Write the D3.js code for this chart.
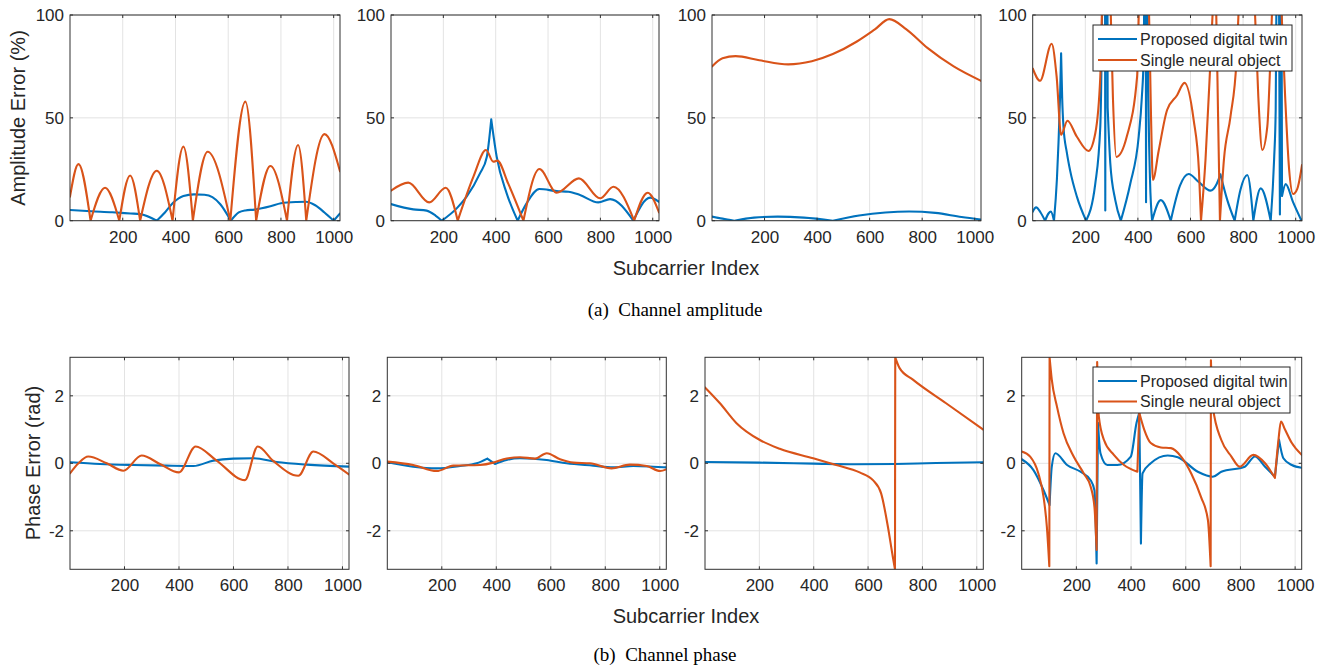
<!DOCTYPE html>
<html><head><meta charset="utf-8">
<script src="https://cdn.jsdelivr.net/npm/d3@7"></script>
<style>
html,body{margin:0;padding:0;background:#fff;}
svg{display:block;}
text{font-family:"Liberation Sans",Arial,Helvetica,sans-serif;fill:#262626;}
.cap{font-family:"Liberation Serif","Times New Roman",serif;fill:#000;}
</style></head>
<body>
<svg id="chart" width="1320" height="668"></svg>
<script>
// ---------------- data ----------------
const xTicks = [200, 400, 600, 800, 1000];
const ampTicks = [0, 50, 100];
const phaseTicks = [-2, 0, 2];
const seriesNames = ["Proposed digital twin", "Single neural object"];
const xLabel = "Subcarrier Index";
const ampLabel = "Amplitude Error (%)";
const phaseLabel = "Phase Error (rad)";
const captionA = "(a)  Channel amplitude";
const captionB = "(b)  Channel phase";
// points: [subcarrier, value, cusp flag]
const twinAmp1 = [[0,5.2],[80,4.6],[160,4.1],[230,3.5],[266,3.2],[329,0,1],[360,4],[392,8.8],[430,12],[470,12.8],[510,12.6],[540,11.5],[570,8],[610,0,1],[640,4],[665,5],[700,5.4],[760,7],[800,8.5],[860,9.1],[895,9.2],[930,7.5],[965,4],[1000,0,1],[1024,3.5]];
const neuralAmp1 = [[0,11.7],[32,27.5],[78,0,1],[133,16],[187,0,1],[228,22],[266,0,1],[329,24.3],[389,0,1],[430,36],[466,0,1],[522,33.5],[608,0,1],[665,57.9],[706,0,1],[760,26.6],[823,0,1],[865,36.8],[896,0,1],[965,42.1],[1024,24]];
const twinAmp2 = [[0,8.1],[85,5.5],[136,4.9],[170,2.5],[194,0,1],[251,6],[289,11.7],[340,23],[366,31],[383,49.3,1],[404,31],[442,13.3],[484,0,1],[518,8.4],[567,15.4],[633,14.4],[678,14.1],[722,12.5],[792,8.9],[837,10.5],[926,0,1],[990,11.2],[1024,9.2]];
const neuralAmp2 = [[0,14.6],[66,18.5],[146,8.9],[209,16],[255,0,1],[315,21.4],[363,34.4],[391,28.7],[406,29.2],[448,18],[506,0,1],[567,25.1],[633,13.6],[718,20.6],[799,10.9],[850,16.5],[929,0,1],[981,13.6],[1024,4]];
const twinAmp3 = [[0,2],[40,1],[85,0,1],[160,1.5],[250,2],[350,1.5],[460,0,1],[560,2.5],[660,4],[750,4.5],[850,3.8],[950,1.8],[1024,0.6]];
const neuralAmp3 = [[0,75],[40,79],[90,80],[180,78],[290,76],[380,77.5],[460,81],[550,87],[620,93],[675,98],[740,93],[820,84],[920,75],[1024,68]];
const twinAmp4 = [[0,4.4],[13,6.5],[30,4],[47,0,1],[60,3.5],[69,4.4],[81,0,1],[92,20],[98,37.6],[104,60],[108,81.4,1],[112,60],[117,45.7],[130,33],[142,24.6],[168,11.7],[203,0,1],[238,18],[257,45.7],[262,80],[266,130,1],[275,130,1],[276,5,1],[277,130,1],[284,130,1],[285,55,1],[295,28],[314,10],[335,0,1],[371,18],[403,40.8],[415,60],[422,80],[426,130,1],[430,130,1],[431,9,1],[432,130,1],[436,130,1],[437,100],[441,50],[446,20],[454,0,1],[487,10],[525,0,1],[560,17],[593,22.7],[630,19],[676,14.6],[700,18],[714,22.5,1],[740,10],[768,0,1],[790,15],[816,22.2],[839,0,1],[867,15.7],[905,0,1],[918,30],[924,54],[928,130,1],[936,130,1],[940,3,1],[942,130,1],[946,130,1],[948,12,1],[962,17.8],[990,9],[1022,0,1],[1024,0.5]];
const neuralAmp4 = [[0,74],[28,68],[72,86],[91,70],[108,41.7],[132,48.6],[168,40.8],[212,33.9],[238,42.5],[257,70],[265,110],[280,160],[295,110],[305,60],[318,31],[358,41],[397,70],[405,110],[420,160],[441,110],[450,50],[457,19.8],[479,34],[511,53.8],[549,61],[577,67],[612,49],[632,24.6],[640,0,1],[657,29.5],[676,78],[686,105],[692,115],[698,100],[705,50],[712,0,1],[727,29.5],[752,50.6],[775,78],[784,105],[810,150],[844,105],[858,60],[873,34.4],[892,45.7],[905,83],[911,105],[925,140],[945,105],[960,60],[975,25],[990,13],[1006,15.5],[1024,27]];
const twinPh1 = [[0,0.03],[110,-0.02],[232,-0.05],[355,-0.07],[453,-0.08],[526,0.08],[599,0.14],[673,0.15],[758,0.04],[869,-0.04],[1024,-0.1]];
const neuralPh1 = [[0,-0.3],[31,0],[67,0.2],[135,0],[196,-0.22],[263,0.23],[330,-0.02],[400,-0.27],[461,0.5],[538,0.08],[642,-0.5],[689,0.5],[746,0.07],[838,-0.37],[893,0.35],[966,0],[1024,-0.33]];
const twinPh2 = [[0,0.03],[95,-0.1],[181,-0.15],[267,-0.08],[328,0],[367,0.14,1],[395,-0.02,1],[438,0.1],[487,0.15],[585,0.1],[658,0],[756,-0.07],[829,-0.12],[903,-0.08],[976,-0.1],[1024,-0.12]];
const neuralPh2 = [[0,0.05],[95,-0.05],[181,-0.23],[242,-0.07],[340,-0.05],[389,0.02],[426,0.12],[487,0.18],[542,0.14],[585,0.3],[634,0.12],[683,0.02],[744,0],[823,-0.15],[890,-0.04],[952,-0.08],[1001,-0.23],[1024,-0.18]];
const twinPh3 = [[0,0.04],[200,0.02],[400,-0.01],[550,-0.03],[700,-0.02],[850,0.01],[1024,0.03]];
const neuralPh3 = [[0,2.25],[55,1.78],[116,1.19],[202,0.69],[275,0.43],[398,0.15],[483,-0.05],[569,-0.27],[618,-0.5],[648,-0.89],[673,-1.88],[691,-2.77],[699,-3.14,1],[700,3.14,1],[716,2.82],[765,2.48],[887,1.78],[1024,1.0]];
const twinPh4 = [[0,0.12],[43,-0.2],[80,-0.8],[102,-1.24,1],[110,-0.1],[123,0.3],[166,-0.05],[215,-0.25],[252,-0.5],[266,-0.8],[274,-2.97,1],[279,1.2,1],[288,0.3],[313,-0.05],[350,-0.05],[399,0.2],[420,1.2],[430,1.5,1],[436,-2.38,1],[442,-0.3],[472,0],[534,0.23],[571,0.18],[644,-0.25],[699,-0.4],[730,-0.25],[816,-0.1],[853,0.2],[890,-0.1],[926,-0.4,1],[941,0.7,1],[957,0.15],[988,-0.05],[1024,-0.13]];
const neuralPh4 = [[0,0.35],[31,0.2],[61,-0.3],[80,-1.0],[92,-1.88],[101,-3.05,1],[102,3.14,1],[110,2.48],[129,1.68],[153,0.89],[190,0.2],[227,-0.3],[252,-0.69],[266,-1.29],[274,-2.57,1],[276,3.0,1],[282,1.39],[301,0.69],[337,0.25],[374,-0.05],[423,-0.25,1],[430,1.5,1],[448,1.0],[472,0.6],[509,0.47],[546,0.45],[583,0.2],[620,-0.3],[656,-1.0],[681,-1.68],[691,-3.05,1],[692,3.05,1],[699,1.68],[730,0.69],[767,0.2],[797,-0.1],[847,0.25],[890,0],[926,-0.43,1],[939,0.69],[948,1.24],[963,1.0],[988,0.6],[1024,0.25]];

// ---------------- layout ----------------
const colors = ["#0072BD", "#D95319"];
const svg = d3.select("#chart");
const topPanels = [[70,340],[391,659],[712,981],[1032.7,1302]];
const botPanels = [[70,349],[387.3,666.3],[705,983.3],[1021.7,1301.7]];
const ampData = [[twinAmp1,neuralAmp1],[twinAmp2,neuralAmp2],[twinAmp3,neuralAmp3],[twinAmp4,neuralAmp4]];
const phData = [[twinPh1,neuralPh1],[twinPh2,neuralPh2],[twinPh3,neuralPh3],[twinPh4,neuralPh4]];
const fmt = d => String(d);

function segments(pts){
  const segs=[]; let cur=[];
  pts.forEach((p,i)=>{cur.push(p); if(p[2] && i>0 && i<pts.length-1){segs.push(cur); cur=[p];}});
  segs.push(cur); return segs;
}
let clipId=0;
function panel(x0,x1,y0,y1,yDomain,yTicks,series,legend,legendBox){
  const x=d3.scaleLinear().domain([0,1024]).range([x0,x1]);
  const y=d3.scaleLinear().domain(yDomain).range([y1,y0]);
  const g=svg.append("g");
  g.selectAll(null).data(xTicks).enter().append("line")
    .attr("x1",d=>x(d)).attr("x2",d=>x(d)).attr("y1",y0).attr("y2",y1)
    .attr("stroke","#e3e3e3").attr("stroke-width",1);
  g.selectAll(null).data(yTicks).enter().append("line")
    .attr("x1",x0).attr("x2",x1).attr("y1",d=>y(d)).attr("y2",d=>y(d))
    .attr("stroke","#e3e3e3").attr("stroke-width",1);
  const id="clip"+(clipId++);
  svg.append("clipPath").attr("id",id).append("rect").attr("x",x0).attr("y",y0).attr("width",x1-x0).attr("height",y1-y0);
  const line=d3.line().x(d=>x(d[0])).y(d=>y(d[1])).curve(d3.curveMonotoneX);
  const lg=g.append("g").attr("clip-path",`url(#${id})`);
  series.forEach((s,i)=>{
    lg.append("path").attr("d",segments(s).map(seg=>line(seg)).join(""))
      .attr("fill","none").attr("stroke",colors[i]).attr("stroke-width",2.1)
      .attr("stroke-linejoin","round").attr("stroke-linecap","round");
  });
  g.append("rect").attr("x",x0).attr("y",y0).attr("width",x1-x0).attr("height",y1-y0)
    .attr("fill","none").attr("stroke","#303030").attr("stroke-width",1);
  const tl=3;
  xTicks.forEach(t=>{
    g.append("line").attr("x1",x(t)).attr("x2",x(t)).attr("y1",y1).attr("y2",y1-tl).attr("stroke","#303030");
    g.append("line").attr("x1",x(t)).attr("x2",x(t)).attr("y1",y0).attr("y2",y0+tl).attr("stroke","#303030");
  });
  yTicks.forEach(t=>{
    g.append("line").attr("x1",x0).attr("x2",x0+tl).attr("y1",y(t)).attr("y2",y(t)).attr("stroke","#303030");
    g.append("line").attr("x1",x1).attr("x2",x1-tl).attr("y1",y(t)).attr("y2",y(t)).attr("stroke","#303030");
  });
  const ax=g.append("g").attr("transform",`translate(0,${y1})`)
    .call(d3.axisBottom(x).tickValues(xTicks).tickSize(0).tickPadding(10).tickFormat(fmt));
  ax.select(".domain").remove();
  ax.selectAll("text").attr("font-size",17).attr("fill","#262626").style("font-family","Liberation Sans, Arial, sans-serif");
  const ay=g.append("g").attr("transform",`translate(${x0},0)`)
    .call(d3.axisLeft(y).tickValues(yTicks).tickSize(0).tickPadding(6).tickFormat(fmt));
  ay.select(".domain").remove();
  ay.selectAll("text").attr("font-size",17).attr("fill","#262626").style("font-family","Liberation Sans, Arial, sans-serif");
  if(legend){
    const [bx0,by0,bx1,by1,r1,r2]=legendBox;
    const lgd=g.append("g");
    lgd.append("rect").attr("x",bx0).attr("y",by0).attr("width",bx1-bx0).attr("height",by1-by0)
      .attr("fill","#fff").attr("stroke","#262626").attr("stroke-width",1);
    [r1,r2].forEach((ry,i)=>{
      lgd.append("line").attr("x1",bx0+5).attr("x2",bx0+44).attr("y1",ry).attr("y2",ry)
        .attr("stroke",colors[i]).attr("stroke-width",2.1);
      lgd.append("text").attr("x",bx0+47).attr("y",ry).attr("dy","0.36em")
        .attr("font-size",16).text(seriesNames[i]);
    });
  }
}
topPanels.forEach((p,i)=>panel(p[0],p[1],15,220.7,[0,100],ampTicks,ampData[i],i===3,[1093,25,1292,71,39,60]));
botPanels.forEach((p,i)=>panel(p[0],p[1],357.3,569.3,[-Math.PI,Math.PI],phaseTicks,phData[i],i===3,[1093,367,1290,413,381,401.5]));

svg.append("text").attr("x",686).attr("y",275).attr("text-anchor","middle").attr("font-size",20).text(xLabel);
svg.append("text").attr("x",686).attr("y",623).attr("text-anchor","middle").attr("font-size",20).text(xLabel);
svg.append("text").attr("transform","translate(25,118) rotate(-90)").attr("text-anchor","middle").attr("font-size",20).text(ampLabel);
svg.append("text").attr("transform","translate(40,463) rotate(-90)").attr("text-anchor","middle").attr("font-size",20).text(phaseLabel);
svg.append("text").attr("class","cap").attr("x",675).attr("y",316).attr("text-anchor","middle").attr("font-size",19).attr("xml:space","preserve").style("white-space","pre").text(captionA);
svg.append("text").attr("class","cap").attr("x",665).attr("y",661).attr("text-anchor","middle").attr("font-size",19).attr("xml:space","preserve").style("white-space","pre").text(captionB);
</script>
</body></html>
